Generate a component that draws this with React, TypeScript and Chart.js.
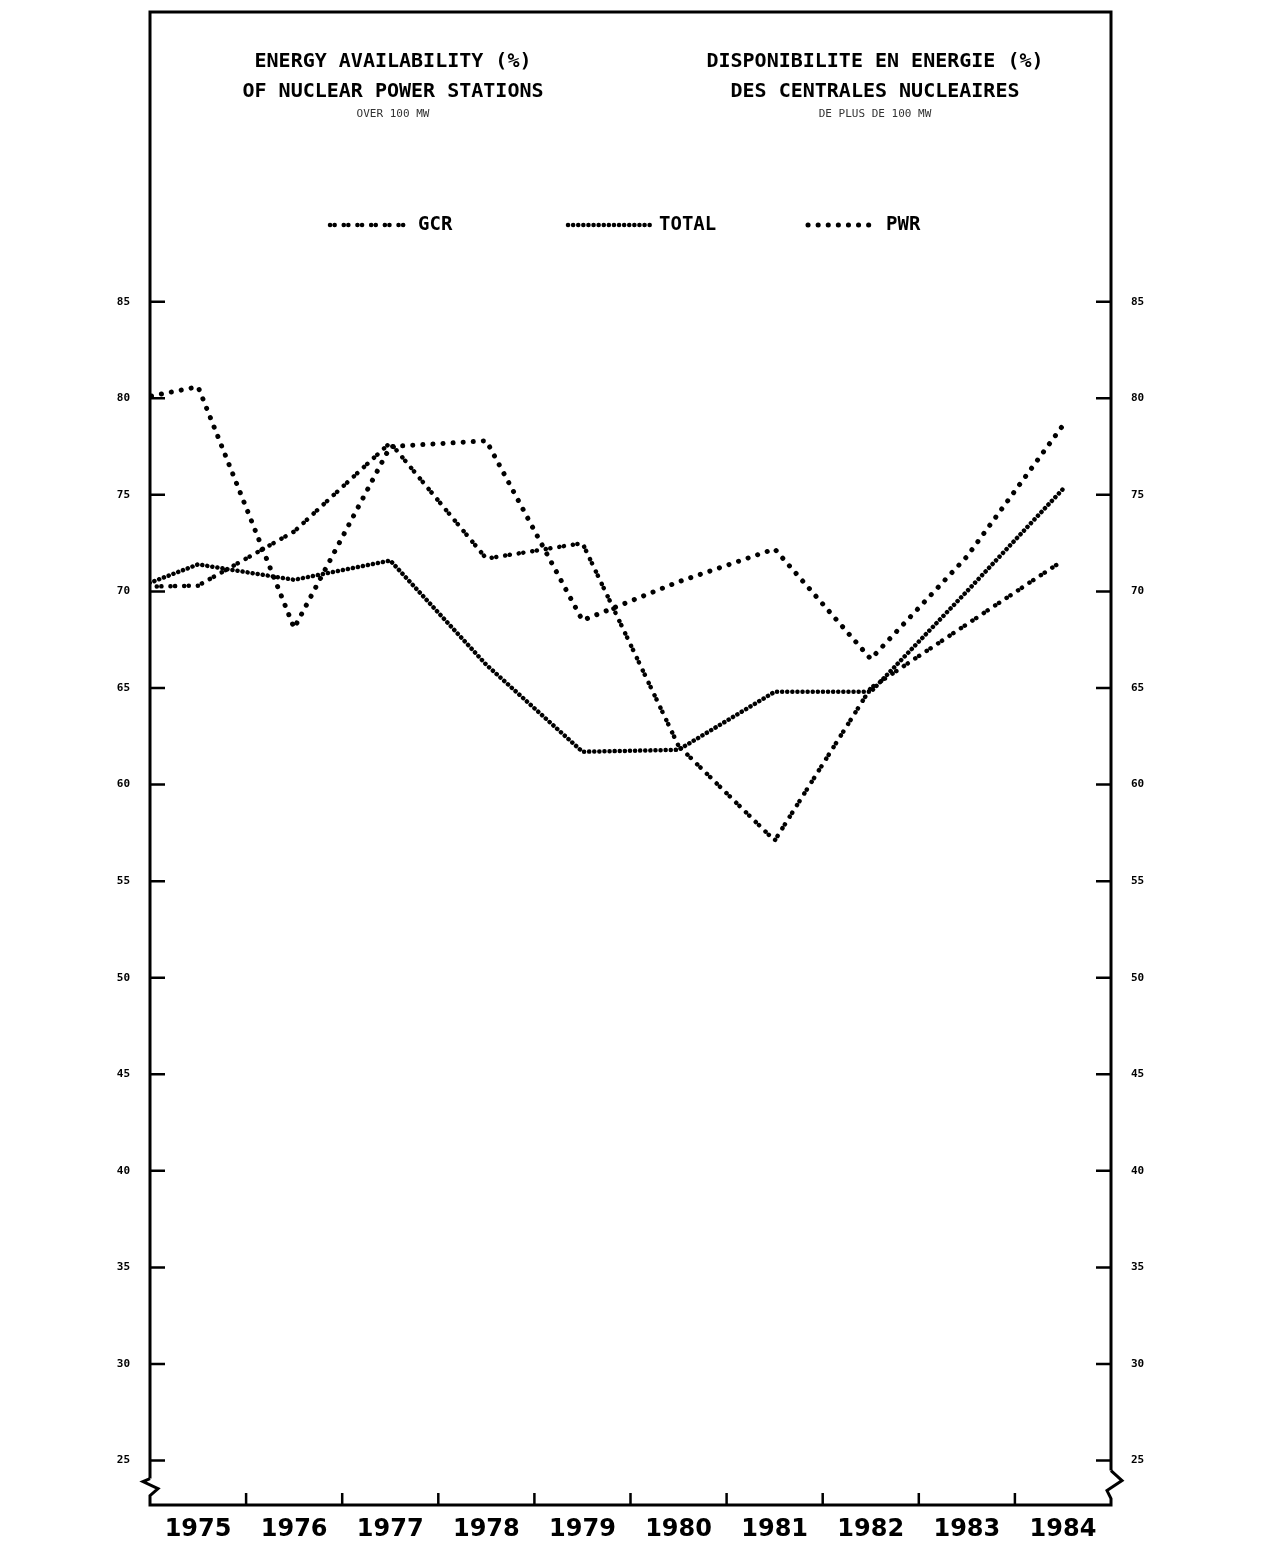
import { useEffect, useRef } from 'react';
import { Chart, registerables } from 'chart.js';

Chart.register(...registerables);

// 1974 only feeds the short stub that enters at the left frame
const YEARS = [1974, 1975, 1976, 1977, 1978, 1979, 1980, 1981, 1982, 1983, 1984];
const GCR = [70.2, 70.3, 73.1, 77.7, 71.7, 72.5, 62.0, 57.1, 65.0, 68.3, 71.6];
const TOTAL = [69.5, 71.4, 70.6, 71.6, 66.2, 61.7, 61.8, 64.8, 64.8, 70.0, 75.3];
const PWR = [79.6, 80.6, 68.1, 77.5, 77.8, 68.5, 70.5, 72.2, 66.5, 71.8, 78.6];

const YEAR_LABELS = [1975, 1976, 1977, 1978, 1979, 1980, 1981, 1982, 1983, 1984];
const Y_TICKS = [25, 30, 35, 40, 45, 50, 55, 60, 65, 70, 75, 80, 85];

const W = 1287;
const H = 1551;
const INK = '#000';

function pts(vals: number[]) {
  return YEARS.map((x, i) => ({ x, y: vals[i] }));
}

// frame with axis breaks, and tick marks pointing into the plot
const framePlugin = {
  id: 'frame',
  afterDraw(chart: Chart): void {
    const { ctx, chartArea: a } = chart;
    const ys = chart.scales.y;
    const xs = chart.scales.x;
    const y25 = ys.getPixelForValue(25);
    ctx.save();
    ctx.strokeStyle = INK;
    ctx.lineWidth = 3;
    ctx.lineJoin = 'miter';

    ctx.beginPath();
    ctx.moveTo(a.left, y25 + 18);
    ctx.lineTo(a.left, a.top);
    ctx.lineTo(a.right, a.top);
    ctx.lineTo(a.right, y25 + 10);
    ctx.stroke();

    // breaks on both sides of the bottom axis
    ctx.beginPath();
    ctx.moveTo(a.left, y25 + 18);
    ctx.lineTo(a.left - 7, y25 + 21);
    ctx.lineTo(a.left + 8, y25 + 28);
    ctx.lineTo(a.left, y25 + 35);
    ctx.lineTo(a.left, a.bottom);
    ctx.lineTo(a.right, a.bottom);
    ctx.lineTo(a.right, y25 + 38);
    ctx.lineTo(a.right - 4, y25 + 30);
    ctx.lineTo(a.right + 11, y25 + 20);
    ctx.lineTo(a.right, y25 + 10);
    ctx.stroke();

    ctx.lineWidth = 2.5;
    ctx.beginPath();
    Y_TICKS.forEach(v => {
      const py = ys.getPixelForValue(v);
      ctx.moveTo(a.left, py);
      ctx.lineTo(a.left + 15, py);
      ctx.moveTo(a.right - 15, py);
      ctx.lineTo(a.right, py);
    });
    YEAR_LABELS.slice(0, -1).forEach(yr => {
      const px = xs.getPixelForValue(yr + 0.5);
      ctx.moveTo(px, a.bottom);
      ctx.lineTo(px, a.bottom - 12);
    });
    ctx.stroke();
    ctx.restore();
  },
};

const legendPlugin = {
  id: 'inlineLegend',
  afterDraw(chart: Chart): void {
    const { ctx } = chart;
    const spots = [
      { x0: 330, x1: 410, tx: 418 },
      { x0: 568, x1: 650, tx: 659 },
      { x0: 808, x1: 878, tx: 886 },
    ];
    const y = 225;
    ctx.save();
    chart.data.datasets.forEach((ds: any, i) => {
      const s = spots[i];
      ctx.strokeStyle = INK;
      ctx.lineWidth = ds.borderWidth;
      ctx.lineCap = 'round';
      ctx.setLineDash(ds.borderDash);
      ctx.beginPath();
      ctx.moveTo(s.x0, y);
      ctx.lineTo(s.x1, y);
      ctx.stroke();
      ctx.setLineDash([]);
      ctx.fillStyle = INK;
      ctx.font = 'bold 19px "DejaVu Sans Mono"';
      ctx.textBaseline = 'middle';
      ctx.textAlign = 'left';
      ctx.fillText(ds.label, s.tx, y);
    });
    ctx.restore();
  },
};

const tickFont = { family: '"DejaVu Sans Mono"', weight: 'bold' as const, size: 11 };

function yAxis(position: 'left' | 'right', width: number) {
  return {
    position,
    min: 22.7,
    max: 100,
    afterBuildTicks: (s: any) => { s.ticks = Y_TICKS.map(value => ({ value })); },
    afterFit: (s: any) => {
      s.width = width;
      s.paddingTop = 0;
      s.paddingBottom = 0;
    },
    ticks: { color: INK, font: tickFont, padding: 12 },
    grid: { display: false },
    border: { display: false },
  };
}

export default function App(): JSX.Element {
  const canvasRef = useRef<HTMLCanvasElement>(null);
  const chartRef = useRef<Chart | null>(null);

  useEffect(() => {
    if (!canvasRef.current) return;
    if (chartRef.current) chartRef.current.destroy();

    chartRef.current = new Chart(canvasRef.current, {
      type: 'line',
      plugins: [framePlugin, legendPlugin],
      data: {
        datasets: [
          {
            label: 'GCR',
            data: pts(GCR),
            borderColor: INK,
            borderWidth: 4.5,
            borderDash: [0.1, 4.5, 0.1, 9],
            borderCapStyle: 'round',
            pointRadius: 0,
            tension: 0,
          },
          {
            label: 'TOTAL',
            data: pts(TOTAL),
            borderColor: INK,
            borderWidth: 4.5,
            borderDash: [0.1, 5],
            borderCapStyle: 'round',
            pointRadius: 0,
            tension: 0,
          },
          {
            label: 'PWR',
            data: pts(PWR),
            borderColor: INK,
            borderWidth: 5,
            borderDash: [0.1, 10],
            borderCapStyle: 'round',
            pointRadius: 0,
            tension: 0,
          },
        ],
      },
      options: {
        animation: false,
        responsive: false,
        layout: { padding: { top: 12, left: 0, right: 0, bottom: 0 } },
        plugins: { legend: { display: false }, tooltip: { enabled: false } },
        scales: {
          x: {
            type: 'linear',
            min: 1974.5,
            max: 1984.5,
            afterBuildTicks: (s: any) => { s.ticks = YEAR_LABELS.map(value => ({ value })); },
            afterFit: (s: any) => {
              s.height = 46;
              s.paddingLeft = 0;
              s.paddingRight = 0;
            },
            ticks: {
              color: INK,
              font: { family: '"DejaVu Sans"', weight: 'bold', size: 24 },
              padding: 2,
              maxRotation: 0,
              autoSkip: false,
              callback: (v: any) => String(v),
            },
            grid: { display: false },
            border: { display: false },
          },
          y: yAxis('left', 150),
          y2: yAxis('right', W - 1111),
        },
      },
    });

    return () => { chartRef.current?.destroy(); };
  }, []);

  const title: React.CSSProperties = {
    position: 'absolute',
    width: 420,
    textAlign: 'center',
    fontFamily: '"DejaVu Sans Mono", monospace',
    fontWeight: 'bold',
    fontSize: 20,
    lineHeight: '20px',
    color: INK,
    whiteSpace: 'nowrap',
  };
  const sub: React.CSSProperties = { ...title, fontWeight: 'normal', fontSize: 11, lineHeight: '11px', color: '#333' };

  return (
    <div style={{ position: 'absolute', left: 0, top: 0, width: W, height: H, background: '#fff', overflow: 'hidden' }}>
      <canvas
        ref={canvasRef}
        width={W}
        height={H}
        role="img"
        aria-label="Line chart of energy availability of nuclear power stations, GCR, TOTAL and PWR, 1975 to 1984."
      />
      <div style={{ ...title, left: 393 - 210, top: 50 }}>ENERGY AVAILABILITY (%)</div>
      <div style={{ ...title, left: 393 - 210, top: 80 }}>OF NUCLEAR POWER STATIONS</div>
      <div style={{ ...sub, left: 393 - 210, top: 108 }}>OVER 100 MW</div>
      <div style={{ ...title, left: 875 - 210, top: 50 }}>DISPONIBILITE EN ENERGIE (%)</div>
      <div style={{ ...title, left: 875 - 210, top: 80 }}>DES CENTRALES NUCLEAIRES</div>
      <div style={{ ...sub, left: 875 - 210, top: 108 }}>DE PLUS DE 100 MW</div>
    </div>
  );
}
